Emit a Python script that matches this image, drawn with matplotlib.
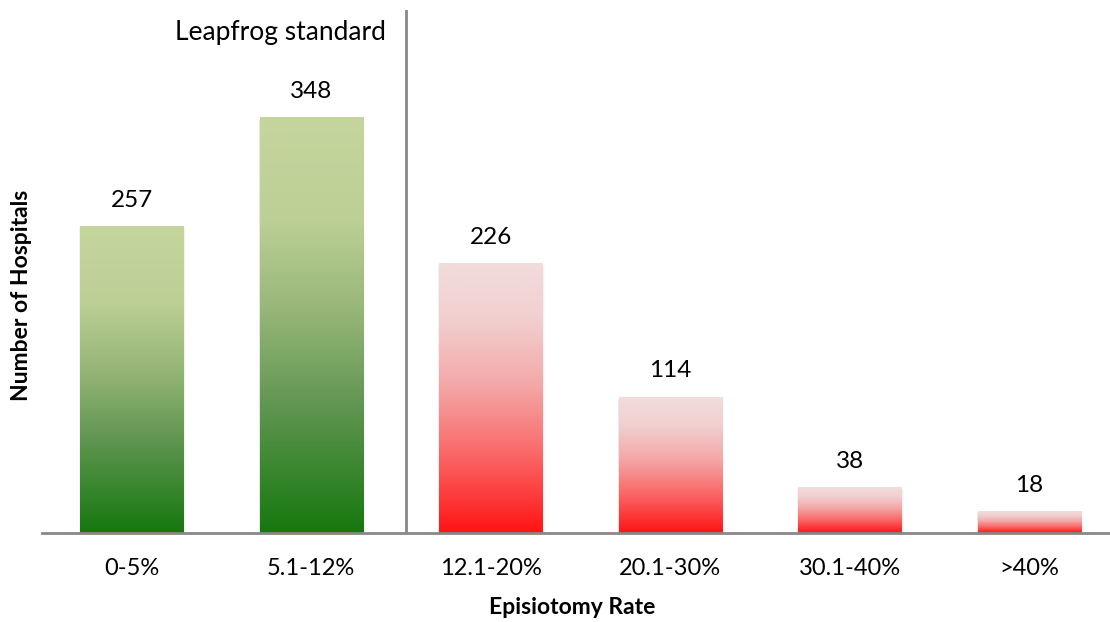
import numpy as np
import matplotlib.pyplot as plt
from matplotlib.colors import LinearSegmentedColormap

categories = ['0-5%', '5.1-12%', '12.1-20%', '20.1-30%', '30.1-40%', '>40%']
hospitals = [257, 348, 226, 114, 38, 18]
meets_standard = [True, True, False, False, False, False]

plt.rcParams['font.family'] = ['Lato', 'DejaVu Sans']

green = LinearSegmentedColormap.from_list(
    'g', [(0, '#16780e'), (0.3, '#5f9550'), (0.55, '#9ab87a'), (0.75, '#bccf95'), (1, '#c5d69d')])
red = LinearSegmentedColormap.from_list(
    'r', [(0, '#ff1414'), (0.3, '#fa6a6a'), (0.55, '#f4a8a8'), (0.8, '#f1d0d0'), (1, '#f1dcdc')])

fig = plt.figure(figsize=(11.1, 6.22), dpi=100)
ax = fig.add_axes([42 / 1110, 89 / 622, 1077 / 1110, 523 / 622])
ymax = 438.4

w = 0.575
grad = np.linspace(0, 1, 256).reshape(-1, 1)
for i, (v, ok) in enumerate(zip(hospitals, meets_standard)):
    # soft shadow
    for k, a in enumerate([0.04, 0.03, 0.02]):
        d = 0.004 * (k + 1)
        ax.add_patch(plt.Rectangle((i - w / 2 - d / 2, -1.5 - k), w + 1.5 * d, v + k, color='k',
                                   alpha=a, lw=0, zorder=1))
    ax.imshow(grad, cmap=green if ok else red, origin='lower', aspect='auto',
              extent=(i - w / 2, i + w / 2, 0, v), zorder=2, interpolation='bilinear')
    ax.text(i, v + 13, str(v), ha='center', va='bottom', fontsize=17.5)

ax.set_xlim(-0.5, 5.5)
ax.set_ylim(0, ymax)

ax.axvline(1.53, color='#888888', lw=2, zorder=3)
ax.text(1.415, ymax - 8, 'Leapfrog standard', ha='right', va='top', fontsize=19)

for s in ['top', 'right', 'left']:
    ax.spines[s].set_visible(False)
ax.spines['bottom'].set_color('#888888')
ax.spines['bottom'].set_linewidth(2)
ax.spines['bottom'].set_zorder(4)
ax.set_yticks([])
ax.set_xticks(range(len(categories)))
ax.set_xticklabels(categories, fontsize=17)
ax.tick_params(axis='x', length=0, pad=18)

fig.text(572 / 1110, 1 - 608 / 622, 'Episiotomy Rate', ha='center', va='center',
         fontsize=16.5, fontweight='bold')
fig.text(22 / 1110, 1 - 295 / 622, 'Number of Hospitals', ha='center', va='center',
         rotation=90, fontsize=16.5, fontweight='bold')

fig.savefig('out.png', dpi=100)
